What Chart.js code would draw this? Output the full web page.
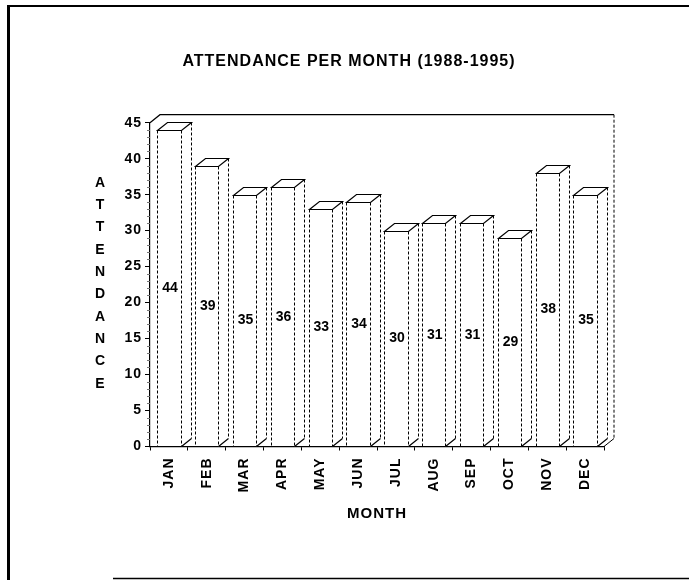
<!DOCTYPE html>
<html>
<head>
<meta charset="utf-8">
<title>Attendance per month</title>
<script src="https://cdn.jsdelivr.net/npm/chart.js@4.4.0/dist/chart.umd.min.js"></script>
<style>
  html, body { margin: 0; padding: 0; background: #fff; }
  #wrap { width: 689px; height: 580px; }
</style>
</head>
<body>
<div id="wrap"><canvas id="attendanceChart" width="689" height="580"></canvas></div>
<script>
const months = ['JAN', 'FEB', 'MAR', 'APR', 'MAY', 'JUN', 'JUL', 'AUG', 'SEP', 'OCT', 'NOV', 'DEC'];
const attendance = [44, 39, 35, 36, 33, 34, 30, 31, 31, 29, 38, 35];
const yTickLabels = [0, 5, 10, 15, 20, 25, 30, 35, 40, 45];
const chartTitle = 'ATTENDANCE PER MONTH (1988-1995)';
const yTitle = 'ATTENDANCE';
const xTitle = 'MONTH';

const fontFamily = "'Liberation Sans', Arial, sans-serif";
const depthX = 10;
const depthY = 8;

// slightly wider lettering like the scanned original
const spacing = {
    id: 'spacing',
    beforeLayout(chart) { chart.ctx.letterSpacing = '1px'; },
    beforeDraw(chart) { chart.ctx.letterSpacing = '1px'; }
};

const frame = {
    id: 'frame',
    afterDraw(chart) {
        const ctx = chart.ctx;
        ctx.save();
        ctx.strokeStyle = '#000';
        ctx.lineWidth = 3;
        ctx.beginPath();
        ctx.moveTo(8.5, 5);
        ctx.lineTo(8.5, 580);
        ctx.stroke();
        ctx.lineWidth = 2;
        ctx.beginPath();
        ctx.moveTo(7, 6);
        ctx.lineTo(689, 6);
        ctx.stroke();
        ctx.lineWidth = 1.5;
        ctx.beginPath();
        ctx.moveTo(113, 578.5);
        ctx.lineTo(689, 578.5);
        ctx.stroke();

        // stacked y axis title
        ctx.fillStyle = '#000';
        ctx.font = 'bold 14px ' + fontFamily;
        ctx.textAlign = 'center';
        ctx.textBaseline = 'middle';
        ctx.letterSpacing = '0px';
        yTitle.split('').forEach((ch, i) => {
            ctx.fillText(ch, 100, 183 + i * 22.3);
        });
        ctx.restore();
    }
};

const bars3d = {
    id: 'bars3d',
    beforeDatasetsDraw(chart) {
        const {ctx, chartArea: a} = chart;
        const yScale = chart.scales.y;
        ctx.save();
        ctx.strokeStyle = '#000';
        ctx.lineWidth = 1.2;
        ctx.beginPath();
        ctx.moveTo(a.left, a.top);
        ctx.lineTo(a.left + depthX, a.top - depthY);
        ctx.lineTo(a.right + depthX, a.top - depthY);
        ctx.stroke();
        ctx.lineWidth = 1;
        ctx.setLineDash([3, 2]);
        ctx.beginPath();
        ctx.moveTo(a.right + depthX, a.top - depthY);
        ctx.lineTo(a.right + depthX, a.bottom - depthY);
        ctx.stroke();
        ctx.setLineDash([]);
        ctx.beginPath();
        ctx.moveTo(a.right + depthX, a.bottom - depthY);
        ctx.lineTo(a.right, a.bottom);
        ctx.stroke();
        // minor ticks on the value axis
        ctx.strokeStyle = '#777';
        for (let v = 1; v < 45; v++) {
            if (v % 5 === 0) continue;
            const py = Math.round(yScale.getPixelForValue(v)) + 0.5;
            ctx.beginPath();
            ctx.moveTo(a.left - 3, py);
            ctx.lineTo(a.left, py);
            ctx.stroke();
        }
        ctx.restore();
    },
    afterDatasetsDraw(chart) {
        const ctx = chart.ctx;
        const meta = chart.getDatasetMeta(0);
        ctx.save();
        meta.data.forEach((bar, i) => {
            const {x, y, base, width} = bar.getProps(['x', 'y', 'base', 'width'], true);
            const l = Math.round(x - width / 2) + 0.5;
            const r = Math.round(x + width / 2) + 0.5;
            const t = Math.round(y) + 0.5;
            const b = Math.round(base) + 0.5;

            ctx.fillStyle = '#fff';
            ctx.beginPath();
            ctx.moveTo(l, t);
            ctx.lineTo(l + depthX, t - depthY);
            ctx.lineTo(r + depthX, t - depthY);
            ctx.lineTo(r + depthX, b - depthY);
            ctx.lineTo(r, b);
            ctx.lineTo(r, t);
            ctx.closePath();
            ctx.fill();

            ctx.strokeStyle = '#000';
            ctx.lineWidth = 1.2;
            ctx.setLineDash([]);
            ctx.beginPath();
            ctx.moveTo(l, t);
            ctx.lineTo(r, t);
            ctx.lineTo(r + depthX, t - depthY);
            ctx.lineTo(l + depthX, t - depthY);
            ctx.closePath();
            ctx.moveTo(r, b);
            ctx.lineTo(r + depthX, b - depthY);
            ctx.stroke();

            ctx.lineWidth = 1;
            ctx.setLineDash([3, 2]);
            ctx.beginPath();
            ctx.moveTo(l, t);
            ctx.lineTo(l, b);
            ctx.moveTo(r, t);
            ctx.lineTo(r, b);
            ctx.moveTo(r + depthX, t - depthY);
            ctx.lineTo(r + depthX, b - depthY);
            ctx.stroke();

            ctx.setLineDash([]);
            ctx.fillStyle = '#000';
            ctx.font = 'bold 14px ' + fontFamily;
            ctx.letterSpacing = '0px';
            ctx.textAlign = 'center';
            ctx.textBaseline = 'middle';
            ctx.fillText(String(attendance[i]), x + 1, (y + base) / 2);
        });
        ctx.restore();
    }
};

const ctx = document.getElementById('attendanceChart').getContext('2d');
const attendanceChart = new Chart(ctx, {
    type: 'bar',
    data: {
        labels: months,
        datasets: [{
            label: 'Attendance',
            data: attendance,
            backgroundColor: '#fff',
            borderWidth: 0,
            barPercentage: 0.62,
            categoryPercentage: 1
        }]
    },
    options: {
        responsive: false,
        animation: false,
        devicePixelRatio: 1,
        layout: { padding: { left: 94, right: 85, top: 0, bottom: 0 } },
        plugins: {
            legend: { display: false },
            tooltip: { enabled: false },
            title: {
                display: true,
                text: chartTitle,
                color: '#000',
                font: { family: fontFamily, size: 16, weight: 'bold', lineHeight: 1.2 },
                padding: { top: 52, bottom: 51.5 }
            }
        },
        scales: {
            x: {
                afterFit(scale) { scale.height = 133.5; },
                border: { display: true, color: '#000', width: 1.2 },
                grid: { drawOnChartArea: false, drawTicks: true, tickLength: 4, color: '#000', offset: true },
                ticks: {
                    color: '#000',
                    minRotation: 90,
                    maxRotation: 90,
                    padding: 7,
                    autoSkip: false,
                    font: { family: fontFamily, size: 14, weight: 'bold' }
                },
                title: {
                    display: true,
                    text: xTitle,
                    color: '#000',
                    font: { family: fontFamily, size: 15, weight: 'bold', lineHeight: 1.2 },
                    padding: { top: 0, bottom: 57 }
                }
            },
            y: {
                min: 0,
                max: 45,
                afterFit(scale) { scale.width = 56; },
                afterBuildTicks(scale) { scale.ticks = yTickLabels.map(v => ({ value: v })); },
                border: { display: true, color: '#000', width: 1.2 },
                grid: { drawOnChartArea: false, drawTicks: true, tickLength: 5, color: '#000' },
                ticks: {
                    color: '#000',
                    padding: 3,
                    font: { family: fontFamily, size: 14, weight: 'bold' }
                }
            }
        }
    },
    plugins: [spacing, bars3d, frame]
});
</script>
</body>
</html>
